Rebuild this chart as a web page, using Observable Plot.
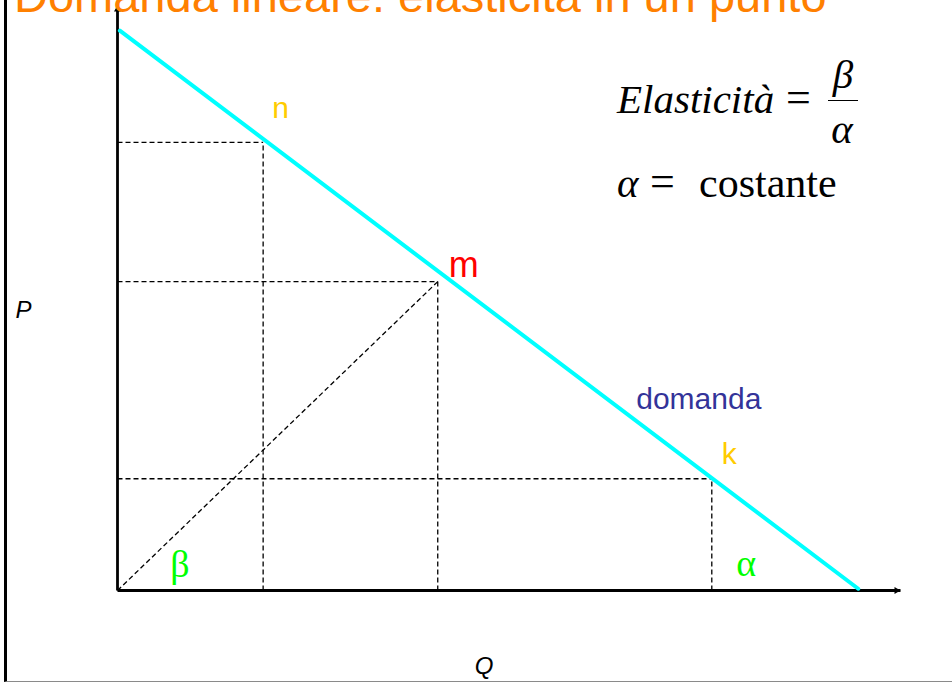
<!DOCTYPE html>
<html>
<head>
<meta charset="utf-8">
<script src="https://cdn.jsdelivr.net/npm/d3@7"></script>
<script src="https://cdn.jsdelivr.net/npm/@observablehq/plot@0.6"></script>
<style>
html, body { margin: 0; padding: 0; background: #fff; }
#wrap { position: relative; width: 952px; height: 682px; overflow: hidden; }
#frame { position: absolute; left: 4px; top: 0; width: 948px; height: 682px; box-sizing: border-box;
  border-left: 3px solid #000; border-bottom: 1px solid #8a8a8a; pointer-events: none; }
#chart { position: absolute; left: 0; top: 0; }
.t { position: absolute; white-space: pre; line-height: 1; }
.bar { position: absolute; border-top: 1.6px solid #000; }
</style>
</head>
<body>
<div id="wrap">
  <div id="chart"></div>
  <div id="frame"></div>
</div>
<script>
// ---- data ----
const title = "Domanda lineare: elasticità in un punto";
const demandQ = [0.03, 9.46];
const demandP = [9.57, 0.03];
const pointNames = ["n", "m", "k"];
const pointQ = [1.86, 4.09, 7.59];
const pointP = [7.66, 5.28, 1.91];
const axisQ = [0, 10];
const axisP = [0, 10];
const curveLabel = "domanda";
const axisNames = ["P", "Q"];
const angleNames = ["β", "α"];
const formulaLeft = "Elasticità";
const formulaNum = "β";
const formulaDen = "α";
const formulaLine2a = "α";
const formulaLine2b = "costante";

// ---- tables built from arrays ----
const demand = demandQ.map((q, i) => ({q, p: demandP[i]}));
const points = pointNames.map((name, i) => ({name, q: pointQ[i], p: pointP[i]}));
const origin = [{q: axisQ[0], p: axisP[0]}];
const byName = n => points.filter(d => d.name === n);

const sans = "'Liberation Sans', Arial, Helvetica, sans-serif";
const serif = "'Liberation Serif', 'Times New Roman', Times, serif";
const dash = "5,3";

const plot = Plot.plot({
  width: 952,
  height: 682,
  marginLeft: 117,
  marginRight: 52,
  marginTop: 5,
  marginBottom: 92,
  x: {domain: axisQ, axis: null},
  y: {domain: axisP, axis: null},
  style: {background: "transparent", overflow: "visible"},
  marks: [
    // dashed guides
    Plot.link(points, {x1: () => axisQ[0], x2: "q", y1: "p", y2: "p", stroke: "#000", strokeWidth: 1.3, strokeDasharray: dash}),
    Plot.link(points, {x1: "q", x2: "q", y1: () => axisP[0], y2: "p", stroke: "#000", strokeWidth: 1.3, strokeDasharray: dash}),
    Plot.link(byName("m"), {x1: () => axisQ[0], y1: () => axisP[0], x2: "q", y2: "p", stroke: "#000", strokeWidth: 1.3, strokeDasharray: dash}),
    // axes
    Plot.link(origin, {x1: "q", y1: "p", x2: "q", y2: () => axisP[1], stroke: "#000", strokeWidth: 2.8}),
    Plot.link(origin, {x1: "q", y1: "p", x2: () => axisQ[1], y2: "p", stroke: "#000", strokeWidth: 2.8}),
    Plot.dot(origin, {x: "q", y: () => axisP[1], symbol: "triangle", r: 2.6, fill: "#000", stroke: null, dy: 4}),
    Plot.dot(origin, {x: () => axisQ[1], y: "p", symbol: "triangle", r: 2.6, fill: "#000", stroke: null, rotate: 90, dx: -4}),
    // demand line
    Plot.line(demand, {x: "q", y: "p", stroke: "#00FFFF", strokeWidth: 4}),
    // point labels
    Plot.text(byName("n"), {x: "q", y: "p", text: "name", fill: "#FFCC00", fontSize: 30, fontFamily: sans, textAnchor: "start", lineAnchor: "bottom", dx: 9, dy: -24}),
    Plot.text(byName("m"), {x: "q", y: "p", text: "name", fill: "#FF0000", fontSize: 36, fontFamily: sans, textAnchor: "start", lineAnchor: "bottom", dx: 11, dy: -5}),
    Plot.text(byName("k"), {x: "q", y: "p", text: "name", fill: "#FFCC00", fontSize: 30, fontFamily: sans, textAnchor: "start", lineAnchor: "bottom", dx: 10, dy: -15}),
    Plot.text(byName("k"), {x: "q", y: "p", text: () => curveLabel, fill: "#333399", fontSize: 30, fontFamily: sans, textAnchor: "middle", lineAnchor: "bottom", dx: -13, dy: -70}),
    // angle labels
    Plot.text(origin, {x: "q", y: "p", text: () => angleNames[0], fill: "#00FF00", fontSize: 38, fontFamily: serif, textAnchor: "middle", lineAnchor: "bottom", dx: 62.5, dy: -14}),
    Plot.text(byName("k"), {x: "q", y: () => axisP[0], text: () => angleNames[1], fill: "#00FF00", fontSize: 38, fontFamily: serif, textAnchor: "middle", lineAnchor: "bottom", dx: 34.5, dy: -15}),
    // axis names
    Plot.text([axisNames[0]], {frameAnchor: "left", text: d => d, fill: "#000", fontSize: 24, fontFamily: sans, fontStyle: "italic", textAnchor: "start", lineAnchor: "bottom", dx: -102, dy: 19.5}),
    Plot.text([axisNames[1]], {frameAnchor: "bottom", text: d => d, fill: "#000", fontSize: 24, fontFamily: sans, fontStyle: "italic", textAnchor: "middle", lineAnchor: "bottom", dx: -25, dy: 83})
  ]
});
document.getElementById("chart").appendChild(plot);

// ---- html annotations (title + formula) ----
const wrap = document.getElementById("wrap");
function place(text, left, baseline, size, family, style, color, center, ascentRatio) {
  const s = document.createElement("div");
  s.className = "t";
  s.textContent = text;
  s.style.left = left + "px";
  s.style.top = (baseline - ascentRatio * size) + "px";
  s.style.fontSize = size + "px";
  s.style.fontFamily = family;
  s.style.fontStyle = style;
  s.style.color = color;
  if (center) s.style.transform = "translateX(-50%)";
  wrap.appendChild(s);
}
const serA = 0.8375, sanA = 0.8465;
place(title, 14, 12, 47, sans, "normal", "#FF8000", false, sanA);
place(formulaLeft, 617, 113, 41, serif, "italic", "#000", false, serA);
place("=", 786, 113, 44, serif, "normal", "#000", false, serA);
place(formulaNum, 843, 88, 41, serif, "italic", "#000", true, serA);
place(formulaDen, 842, 143, 41, serif, "italic", "#000", true, serA);
const bar = document.createElement("div");
bar.className = "bar";
bar.style.left = "828px"; bar.style.top = "100px"; bar.style.width = "30px";
wrap.appendChild(bar);
place(formulaLine2a, 617, 197, 41, serif, "italic", "#000", false, serA);
place("=", 650, 197, 44, serif, "normal", "#000", false, serA);
place(formulaLine2b, 699, 197, 42, serif, "normal", "#000", false, serA);
</script>
</body>
</html>
